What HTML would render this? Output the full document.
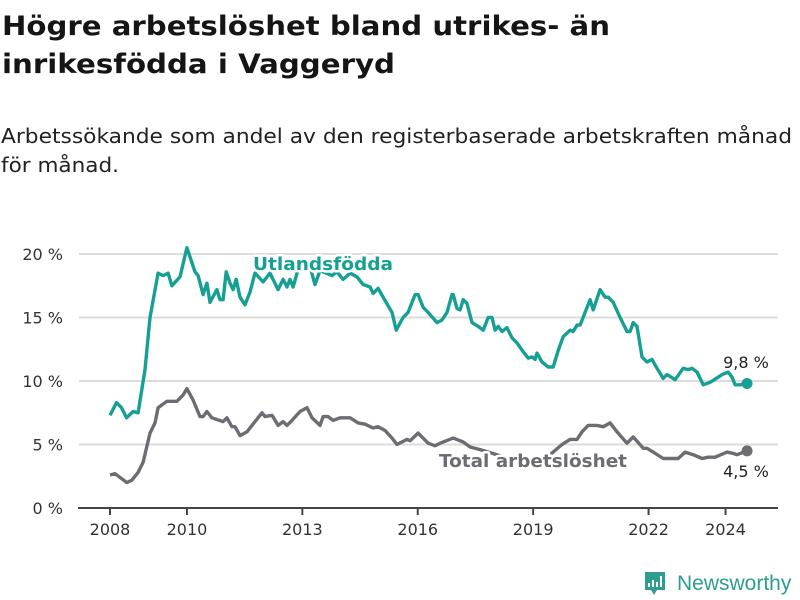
<!DOCTYPE html>
<html><head><meta charset="utf-8"><style>
html,body{margin:0;padding:0;background:#fff;width:800px;height:600px;overflow:hidden}
svg{display:block;font-family:"DejaVu Sans","Liberation Sans",sans-serif}
.halo{paint-order:stroke;stroke:#fff;stroke-width:5px;stroke-linejoin:round}
</style></head><body>
<svg id="chart" width="800" height="600" viewBox="0 0 800 600">
<text x="2" y="35" font-size="27" font-weight="bold" fill="#151515" textLength="608" lengthAdjust="spacingAndGlyphs">Högre arbetslöshet bland utrikes- än</text>
<text x="2" y="73" font-size="27" font-weight="bold" fill="#151515" textLength="393" lengthAdjust="spacingAndGlyphs">inrikesfödda i Vaggeryd</text>
<text x="1" y="143" font-size="20" fill="#222" textLength="791" lengthAdjust="spacingAndGlyphs">Arbetssökande som andel av den registerbaserade arbetskraften månad</text>
<text x="1" y="172" font-size="20" fill="#222" textLength="118" lengthAdjust="spacingAndGlyphs">för månad.</text>
<g id="grid"></g><g id="axes"></g><g id="lines"></g><g id="labels"></g>
<g>
<path d="M645 572 h20 v18 h-8 l-3 5 l-3 -5 h-6 z" fill="#2e9c8e"/>
<rect x="648" y="583" width="2" height="4" fill="#fff"/><rect x="652" y="580" width="2" height="7" fill="#fff"/><rect x="656" y="582" width="2" height="5" fill="#fff"/><rect x="660" y="576" width="2" height="11" fill="#fff"/>
<text x="677" y="590" font-size="21" font-family="Liberation Sans, sans-serif" fill="#2e9c8e">Newsworthy</text>
</g>
</svg>
<script>
const years=[2008,2010,2013,2016,2019,2022,2024];
const yTicks=[0,5,10,15,20];
const foreignT=[2008.00,2008.17,2008.30,2008.43,2008.60,2008.73,2008.91,2009.04,2009.25,2009.38,2009.51,2009.61,2009.82,2010.00,2010.21,2010.29,2010.42,2010.52,2010.60,2010.78,2010.86,2010.94,2011.02,2011.12,2011.20,2011.28,2011.38,2011.51,2011.64,2011.77,2011.98,2012.16,2012.37,2012.50,2012.60,2012.68,2012.76,2012.94,2013.20,2013.33,2013.46,2013.77,2013.90,2014.06,2014.24,2014.42,2014.58,2014.76,2014.84,2014.97,2015.10,2015.33,2015.44,2015.62,2015.75,2015.93,2016.01,2016.14,2016.27,2016.50,2016.63,2016.76,2016.89,2016.92,2017.02,2017.10,2017.18,2017.28,2017.41,2017.57,2017.70,2017.83,2017.93,2018.01,2018.09,2018.19,2018.32,2018.45,2018.58,2018.74,2018.87,2018.97,2019.05,2019.10,2019.23,2019.39,2019.52,2019.65,2019.78,2019.96,2020.04,2020.14,2020.22,2020.35,2020.48,2020.56,2020.74,2020.87,2020.95,2021.08,2021.26,2021.44,2021.52,2021.60,2021.70,2021.83,2021.96,2022.09,2022.22,2022.38,2022.48,2022.69,2022.90,2023.03,2023.13,2023.26,2023.42,2023.60,2023.81,2023.91,2024.07,2024.17,2024.25,2024.38,2024.56];
const foreignV=[7.3,8.3,7.9,7.1,7.6,7.5,10.9,15.0,18.5,18.3,18.5,17.5,18.2,20.5,18.6,18.3,16.8,17.7,16.2,17.2,16.4,16.4,18.6,17.7,17.2,18.0,16.6,16.0,17.0,18.5,17.8,18.5,17.2,18.0,17.4,18.0,17.4,19.3,19.0,17.6,18.7,18.3,18.6,18.0,18.5,18.2,17.6,17.4,16.9,17.3,16.6,15.4,14.0,15.0,15.4,16.8,16.8,15.8,15.4,14.6,14.8,15.4,16.8,16.8,15.7,15.6,16.4,16.1,14.6,14.3,14.0,15.0,15.0,14.0,14.3,13.9,14.2,13.4,13.0,12.3,11.8,11.9,11.7,12.2,11.5,11.1,11.1,12.4,13.5,14.0,13.9,14.4,14.4,15.4,16.4,15.6,17.2,16.6,16.6,16.2,15.0,13.9,13.9,14.6,14.3,11.9,11.5,11.7,11.0,10.2,10.5,10.1,11.0,10.9,11.0,10.7,9.7,9.9,10.3,10.5,10.7,10.3,9.7,9.7,9.8];
const totalT=[2008.00,2008.13,2008.44,2008.57,2008.73,2008.86,2009.04,2009.17,2009.25,2009.48,2009.74,2009.90,2010.00,2010.16,2010.34,2010.42,2010.52,2010.65,2010.94,2011.04,2011.17,2011.25,2011.38,2011.56,2011.77,2011.95,2012.03,2012.21,2012.37,2012.50,2012.60,2012.73,2012.94,2013.12,2013.25,2013.46,2013.54,2013.67,2013.80,2013.98,2014.24,2014.45,2014.63,2014.84,2014.97,2015.15,2015.33,2015.46,2015.72,2015.80,2016.01,2016.27,2016.45,2016.58,2016.92,2017.18,2017.36,2017.62,2018.06,2018.40,2018.66,2018.92,2019.18,2019.44,2019.75,2019.96,2020.14,2020.27,2020.43,2020.66,2020.82,2021.00,2021.18,2021.44,2021.60,2021.86,2021.96,2022.12,2022.38,2022.77,2022.95,2023.16,2023.39,2023.55,2023.73,2024.04,2024.20,2024.30,2024.56];
const totalV=[2.6,2.7,2.0,2.2,2.8,3.6,5.9,6.7,7.9,8.4,8.4,8.9,9.4,8.5,7.2,7.2,7.6,7.1,6.8,7.1,6.4,6.4,5.7,6.0,6.8,7.5,7.2,7.3,6.5,6.8,6.5,6.9,7.6,7.9,7.1,6.5,7.2,7.2,6.9,7.1,7.1,6.7,6.6,6.3,6.4,6.1,5.5,5.0,5.4,5.3,5.9,5.1,4.9,5.1,5.5,5.2,4.8,4.6,4.2,3.8,3.8,3.8,3.9,4.2,5.0,5.4,5.4,6.0,6.5,6.5,6.4,6.7,6.0,5.1,5.6,4.7,4.7,4.4,3.9,3.9,4.4,4.2,3.9,4.0,4.0,4.4,4.3,4.2,4.5];
const NS='http://www.w3.org/2000/svg';
const xS=t=>110+(t-2008)*38.47;
const yS=v=>508-v*12.7;
function mk(tag,attrs,parent){const e=document.createElementNS(NS,tag);for(const k in attrs)e.setAttribute(k,attrs[k]);parent.appendChild(e);return e;}
const grid=document.getElementById('grid'),axes=document.getElementById('axes'),lines=document.getElementById('lines'),labels=document.getElementById('labels');
yTicks.forEach(v=>{
  if(v>0){const g=mk('line',{x1:79,x2:778,y1:yS(v),y2:yS(v),stroke:'#dcdcdc','stroke-width':2},grid);
  
  }
  const t=mk('text',{x:63,y:yS(v)+6,'text-anchor':'end','font-size':16,fill:'#333'},axes);
  t.textContent=v+' %';
  
  
});
const base=mk('line',{x1:78,x2:778,y1:508,y2:508,stroke:'#444','stroke-width':2},axes);


years.forEach(y=>{
  const tk=mk('line',{x1:xS(y),x2:xS(y),y1:508,y2:515,stroke:'#444','stroke-width':2},axes);
  
  
  const t=mk('text',{x:xS(y),y:535,'text-anchor':'middle','font-size':16,fill:'#333'},axes);
  t.textContent=y;
  
  
});
function path(T,V){return T.map((t,i)=>(i?'L':'M')+xS(t).toFixed(1)+' '+yS(V[i]).toFixed(1)).join(' ');}
const pf=mk('path',{d:path(foreignT,foreignV),fill:'none',stroke:'#16a094','stroke-width':3.4,'stroke-linejoin':'round'},lines);


const pt=mk('path',{d:path(totalT,totalV),fill:'none',stroke:'#6d6c72','stroke-width':3.4,'stroke-linejoin':'round'},lines);


const lf=foreignV.length-1,lt=totalV.length-1;
const df=mk('circle',{cx:xS(foreignT[lf]),cy:yS(foreignV[lf]),r:5.5,fill:'#16a094'},lines);


const dt=mk('circle',{cx:xS(totalT[lt]),cy:yS(totalV[lt]),r:5.5,fill:'#6d6c72'},lines);


const a1=mk('text',{x:746,y:368,'text-anchor':'middle','font-size':16,fill:'#222',class:'halo'},labels);
a1.textContent=foreignV[lf].toFixed(1).replace('.',',')+' %';


const a2=mk('text',{x:746,y:477,'text-anchor':'middle','font-size':16,fill:'#222',class:'halo'},labels);
a2.textContent=totalV[lt].toFixed(1).replace('.',',')+' %';


const l1=mk('text',{x:253,y:270,'font-size':18,'font-weight':'bold',fill:'#16a094',class:'halo',textLength:140,lengthAdjust:'spacingAndGlyphs'},labels);
l1.textContent='Utlandsfödda';


const l2=mk('text',{x:439,y:467,'font-size':18,'font-weight':'bold',fill:'#6d6c72',class:'halo',textLength:188,lengthAdjust:'spacingAndGlyphs'},labels);
l2.textContent='Total arbetslöshet';


</script>
</body></html>
